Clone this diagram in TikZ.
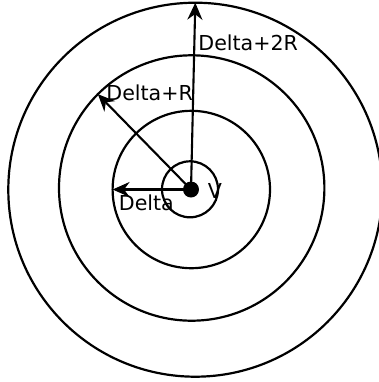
\documentclass[tikz,border=0pt]{standalone}
\usepackage{fontspec}
\setmainfont{DejaVu Sans}
\usepackage{tikz}
\usetikzlibrary{arrows.meta}
\tikzset{
  ring/.style ={circle,draw=black,line width=1.1pt,inner sep=0pt,outer sep=0pt},
  dot/.style  ={circle,fill=black,inner sep=0pt,outer sep=0pt,minimum size=8pt},
  lbl/.style  ={anchor=base west,inner sep=0pt,font=\fontsize{10.3}{12}\selectfont},
  reach/.style={-{Stealth[length=8.5pt,width=7.5pt,inset=2.8pt]},line width=1.05pt,draw=black}
}

\begin{document}
\begin{tikzpicture}[x=0.5pt,y=-0.5pt]
    \clip (0,0) rectangle (379,382);
    % --- rings round v, inner to outer ---
    \node[ring,minimum size=28pt]    (r0) at (190,189.3)   {};
    \node[ring,minimum size=78.7pt]  (r1) at (191.3,189.5) {};
    \node[ring,minimum size=132.7pt] (r2) at (191.7,188)   {};
    \node[ring,minimum size=187pt]   (r3) at (195.3,189.7) {};
    % --- centre ---
    \node[dot] (v) at (191,189.5) {};
    % --- radii ---
    \draw[reach] (v.center) -- (r1.west);
    \draw[reach] (v.center) -- (r2.135);
    \draw[reach] (v.center) -- (r3.north);
    % --- labels ---
    \node[lbl] (lv)  at (207.5,198) {V};
    \node[lbl] (ld)  at (118.5,210) {Delta};
    \node[lbl] (ldr) at (106,100.5) {Delta+R};
    \node[lbl] (ld2) at (198,50)    {Delta+2R};
  \end{tikzpicture}
\end{document}
